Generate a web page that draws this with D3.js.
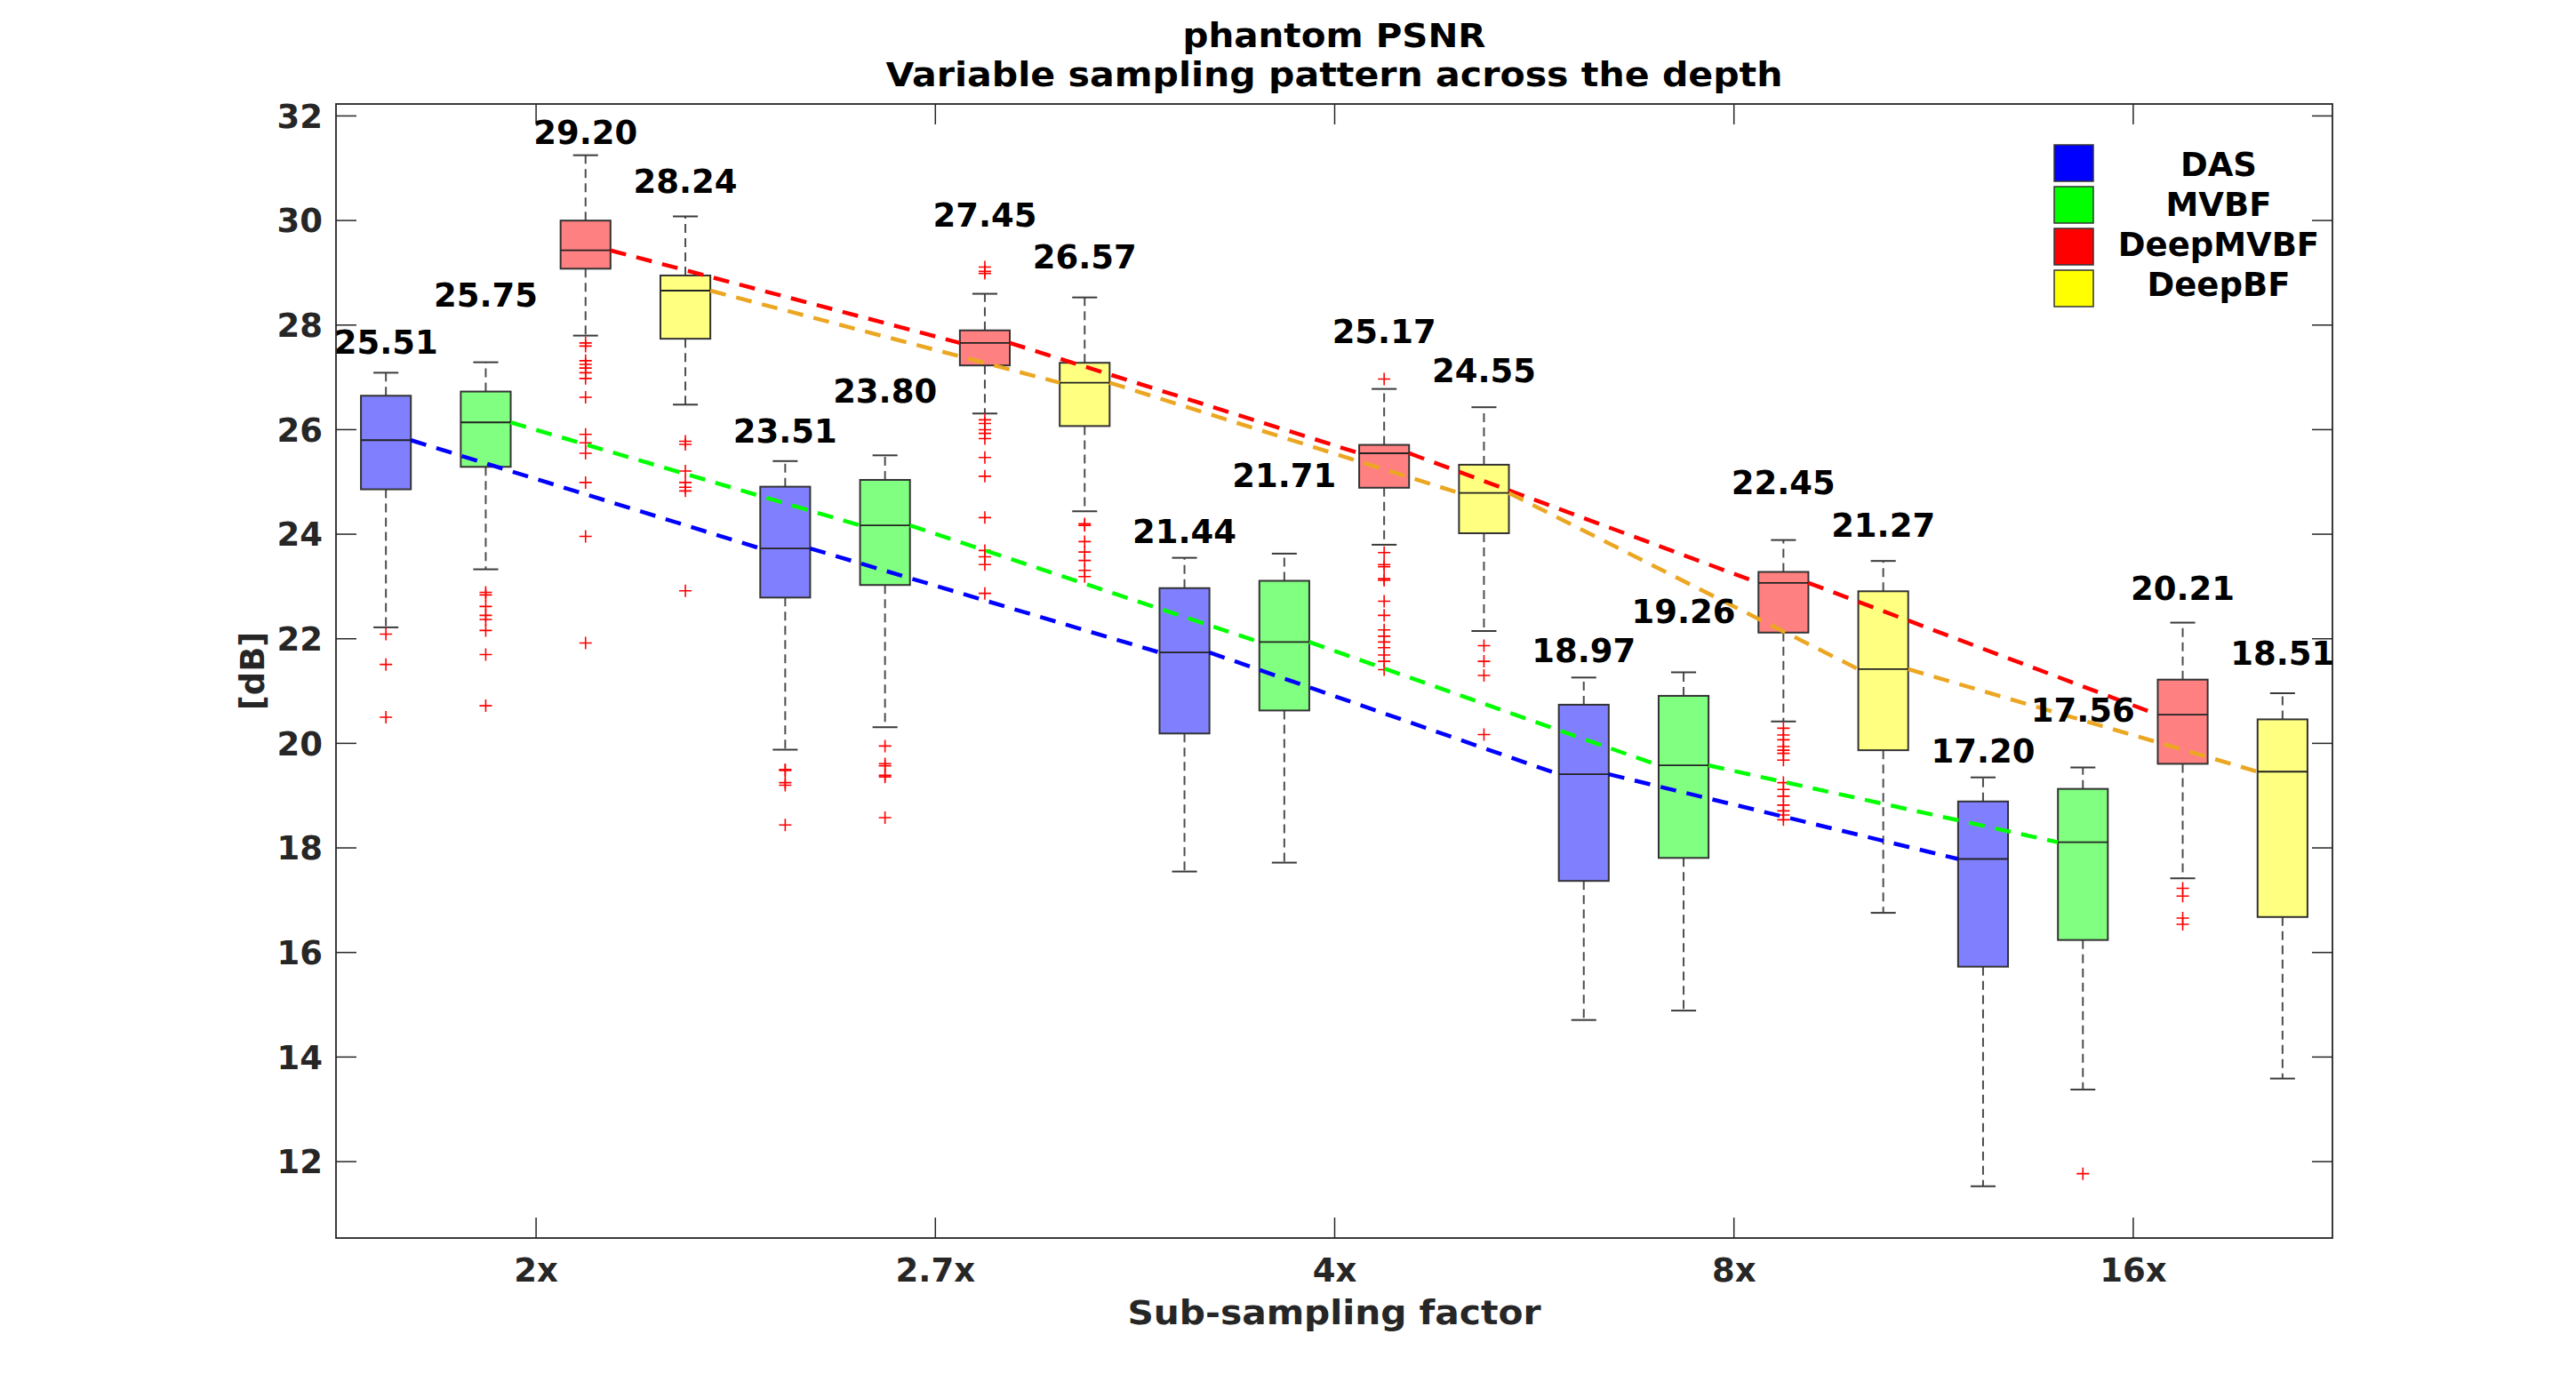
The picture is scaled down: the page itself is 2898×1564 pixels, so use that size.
<!DOCTYPE html>
<html>
<head>
<meta charset="utf-8">
<script src="https://cdn.jsdelivr.net/npm/d3@7"></script>
<style>
  body { margin: 0; background: #fff; }
  text { font-family: "DejaVu Sans", sans-serif; font-weight: bold; }
</style>
</head>
<body>
<div id="chart"></div>
<script>
'use strict';

// categories
const factors = ["2x", "2.7x", "4x", "8x", "16x"];
const methods = ["DAS", "MVBF", "DeepMVBF", "DeepBF"];

// box stats per factor: [lower whisker, q1, median, q3, upper whisker]
const dasBox = [
  [22.21, 24.85, 25.79, 26.64, 27.08],
  [19.87, 22.78, 23.72, 24.90, 25.39],
  [17.54, 20.18, 21.73, 22.96, 23.54],
  [14.70, 17.36, 19.40, 20.73, 21.25],
  [11.52, 15.72, 17.78, 18.88, 19.34],
];
const mvbfBox = [
  [23.32, 25.28, 26.13, 26.72, 27.28],
  [20.30, 23.02, 24.16, 25.03, 25.50],
  [17.71, 20.62, 21.93, 23.10, 23.62],
  [14.88, 17.80, 19.57, 20.90, 21.35],
  [13.37, 16.23, 18.10, 19.12, 19.53],
];
const deepMvbfBox = [
  [27.79, 29.07, 29.42, 29.99, 31.24],
  [26.30, 27.22, 27.65, 27.89, 28.59],
  [23.79, 24.88, 25.54, 25.70, 26.77],
  [20.41, 22.11, 23.06, 23.27, 23.88],
  [17.41, 19.60, 20.54, 21.21, 22.30],
];
const deepBfBox = [
  [26.47, 27.73, 28.65, 28.94, 30.07],
  [24.43, 26.06, 26.89, 27.27, 28.52],
  [22.14, 24.01, 24.78, 25.32, 26.42],
  [16.75, 19.86, 21.41, 22.90, 23.48],
  [13.58, 16.67, 19.45, 20.45, 20.95],
];

// outliers per factor
const dasOutliers = [
  [22.08, 21.50, 20.49],
  [19.49, 19.47, 19.24, 19.19, 18.43],
  [], [], [],
];
const mvbfOutliers = [
  [22.88, 22.83, 22.61, 22.44, 22.36, 22.15, 21.69, 20.71],
  [19.94, 19.60, 19.56, 19.38, 19.35, 18.57],
  [], [], [11.76],
];
const deepMvbfOutliers = [
  [27.65, 27.59, 27.31, 27.24, 27.17, 27.08, 26.97, 26.61, 25.90, 25.74, 25.54, 24.98, 23.95, 21.91],
  [29.10, 29.02, 28.98, 26.18, 26.11, 25.99, 25.92, 25.82, 25.46, 25.10, 24.31, 23.68, 23.56, 23.41, 22.86],
  [26.96, 23.64, 23.41, 23.37, 23.14, 23.11, 22.71, 22.44, 22.16, 22.04, 21.93, 21.82, 21.68, 21.56, 21.40],
  [20.28, 20.15, 20.06, 19.93, 19.86, 19.80, 19.67, 19.24, 19.11, 18.98, 18.81, 18.70, 18.62, 18.53],
  [17.22, 17.07, 16.65, 16.53],
];
const deepBfOutliers = [
  [25.77, 25.71, 25.20, 24.98, 24.89, 24.82, 22.91],
  [24.19, 24.16, 23.85, 23.65, 23.49, 23.30, 23.18],
  [21.86, 21.56, 21.29, 20.16],
  [], [],
];

// printed mean values and where (in dB) their label sits
const dasMean = [25.51, 23.51, 21.44, 18.97, 17.20];
const mvbfMean = [25.75, 23.80, 21.71, 19.26, 17.56];
const deepMvbfMean = [29.20, 27.45, 25.17, 22.45, 20.21];
const deepBfMean = [28.24, 26.57, 24.55, 21.27, 18.51];
const dasLabelAt = [27.44, 25.74, 23.83, 21.54, 19.63];
const mvbfLabelAt = [28.35, 26.51, 24.89, 22.30, 20.41];
const deepMvbfLabelAt = [31.45, 29.88, 27.65, 24.75, 22.73];
const deepBfLabelAt = [30.52, 29.07, 26.90, 23.95, 21.49];

const yTicks = [12, 14, 16, 18, 20, 22, 24, 26, 28, 30, 32];

// styles
const boxFill = ["#8080ff", "#80ff80", "#ff8080", "#ffff80"];
const legendFill = ["#0000ff", "#00ff00", "#ff0000", "#ffff00"];
const lineColor = ["#0000ff", "#00ff00", "#ff0000", "#eca722"];
const offsets = [-0.375, -0.125, 0.125, 0.375];
const boxUnits = 0.125;

const series = [
  {box: dasBox, out: dasOutliers, mean: dasMean, at: dasLabelAt},
  {box: mvbfBox, out: mvbfOutliers, mean: mvbfMean, at: mvbfLabelAt},
  {box: deepMvbfBox, out: deepMvbfOutliers, mean: deepMvbfMean, at: deepMvbfLabelAt},
  {box: deepBfBox, out: deepBfOutliers, mean: deepBfMean, at: deepBfLabelAt},
];

const W = 2898, H = 1564;
const margin = {top: 117, right: 274, bottom: 171, left: 378},
    width = W - margin.left - margin.right,
    height = H - margin.top - margin.bottom;

const svg = d3.select("#chart")
  .append("svg")
    .attr("width", W)
    .attr("height", H);

const g = svg.append("g")
    .attr("transform", `translate(${margin.left},${margin.top})`);

const x = d3.scaleLinear().domain([0.5, 5.5]).range([0, width]);
const y = d3.scaleLinear().domain([10.53, 32.22]).range([height, 0]);
const bw = x(boxUnits) - x(0);
const tickLen = 23;
const axisColor = "#262626";

// axes (ticks pointing inward, like matlab)
const yAxis = g.append("g")
  .call(d3.axisLeft(y).tickValues(yTicks).tickSizeInner(-tickLen).tickSizeOuter(0).tickPadding(15));
const yAxisR = g.append("g")
  .attr("transform", `translate(${width},0)`)
  .call(d3.axisRight(y).tickValues(yTicks).tickSizeInner(-tickLen).tickSizeOuter(0).tickFormat(""));
const xAxis = g.append("g")
  .attr("transform", `translate(0,${height})`)
  .call(d3.axisBottom(x).tickValues([1, 2, 3, 4, 5]).tickFormat((d, i) => factors[i])
    .tickSizeInner(-tickLen).tickSizeOuter(0));
const xAxisT = g.append("g")
  .call(d3.axisTop(x).tickValues([1, 2, 3, 4, 5]).tickSizeInner(-tickLen).tickSizeOuter(0).tickFormat(""));

[yAxis, yAxisR, xAxis, xAxisT].forEach(a => {
  a.select(".domain").remove();
  a.selectAll("line").attr("stroke", axisColor).attr("stroke-width", 1.5);
  a.selectAll("text").attr("fill", axisColor).style("font-size", "37px")
    .style("font-family", "DejaVu Sans").style("font-weight", "bold");
});
yAxis.selectAll("text").attr("dy", "0.36em");
xAxis.selectAll("text").attr("dy", null).attr("y", 49);

g.append("rect")
  .attr("width", width).attr("height", height)
  .attr("fill", "none").attr("stroke", axisColor).attr("stroke-width", 1.8);

// boxes
series.forEach((s, m) => {
  s.box.forEach((b, i) => {
    const cx = x(i + 1 + offsets[m]);
    const [lo, q1, med, q3, hi] = b;
    const bg = g.append("g");
    // whiskers
    bg.append("line").attr("x1", cx).attr("x2", cx).attr("y1", y(q3)).attr("y2", y(hi))
      .attr("stroke", "#4d4d4d").attr("stroke-width", 2).attr("stroke-dasharray", "10,6");
    bg.append("line").attr("x1", cx).attr("x2", cx).attr("y1", y(q1)).attr("y2", y(lo))
      .attr("stroke", "#4d4d4d").attr("stroke-width", 2).attr("stroke-dasharray", "10,6");
    [lo, hi].forEach(v => {
      bg.append("line").attr("x1", cx - bw / 4).attr("x2", cx + bw / 4)
        .attr("y1", y(v)).attr("y2", y(v))
        .attr("stroke", "#3a3a3a").attr("stroke-width", 2);
    });
    bg.append("rect")
      .attr("x", cx - bw / 2).attr("y", y(q3))
      .attr("width", bw).attr("height", y(q1) - y(q3))
      .attr("fill", boxFill[m]).attr("stroke", "#333").attr("stroke-width", 2);
    bg.append("line").attr("x1", cx - bw / 2).attr("x2", cx + bw / 2)
      .attr("y1", y(med)).attr("y2", y(med))
      .attr("stroke", "#222").attr("stroke-width", 1.8);
    // outliers
    bg.selectAll("path.out")
      .data(s.out[i])
      .enter()
      .append("path")
        .attr("class", "out")
        .attr("d", v => `M${cx - 7},${y(v)}H${cx + 7}M${cx},${y(v) - 7}V${y(v) + 7}`)
        .attr("stroke", "#ff0000").attr("stroke-width", 1.6).attr("fill", "none");
  });
});

// dashed trend lines joining the medians
const seg = d3.line().x(d => d[0]).y(d => d[1]);
series.forEach((s, m) => {
  for (let i = 0; i < factors.length - 1; i++) {
    const p0 = [x(i + 1 + offsets[m]) + bw / 2, y(s.box[i][2])];
    const p1 = [x(i + 2 + offsets[m]) - bw / 2, y(s.box[i + 1][2])];
    g.append("path")
      .attr("d", seg([p0, p1]))
      .attr("fill", "none")
      .attr("stroke", lineColor[m])
      .attr("stroke-width", 4.5)
      .attr("stroke-dasharray", "18,12");
  }
});

// mean labels
series.forEach((s, m) => {
  g.selectAll(`text.mean${m}`)
    .data(s.mean)
    .enter()
    .append("text")
      .attr("class", `mean${m}`)
      .attr("x", (d, i) => x(i + 1 + offsets[m]))
      .attr("y", (d, i) => y(s.at[i]))
      .attr("text-anchor", "middle")
      .attr("fill", "#000")
      .style("font-size", "37px")
      .text(d => d.toFixed(2));
});

// legend
const legend = svg.append("g");
methods.forEach((name, i) => {
  legend.append("rect")
    .attr("x", 2311).attr("y", 163 + i * 47)
    .attr("width", 44).attr("height", 41)
    .attr("fill", legendFill[i]).attr("stroke", "#333").attr("stroke-width", 1.5);
  legend.append("text")
    .attr("x", 2496).attr("y", 198 + i * 45)
    .attr("text-anchor", "middle")
    .attr("fill", "#000")
    .style("font-size", "37px")
    .text(name);
});

// titles (matlab renders these a little wider)
const cxAll = margin.left + width / 2;
svg.append("text").attr("x", cxAll).attr("y", 53).attr("text-anchor", "middle")
  .attr("textLength", 341).attr("lengthAdjust", "spacingAndGlyphs")
  .style("font-size", "37px").attr("fill", "#000").text("phantom PSNR");
svg.append("text").attr("x", cxAll).attr("y", 97).attr("text-anchor", "middle")
  .attr("textLength", 1009).attr("lengthAdjust", "spacingAndGlyphs")
  .style("font-size", "37px").attr("fill", "#000").text("Variable sampling pattern across the depth");
svg.append("text").attr("x", cxAll).attr("y", 1490).attr("text-anchor", "middle")
  .attr("textLength", 465).attr("lengthAdjust", "spacingAndGlyphs")
  .style("font-size", "37px").attr("fill", axisColor).text("Sub-sampling factor");
svg.append("text")
  .attr("transform", `translate(297,${margin.top + height / 2}) rotate(-90)`)
  .attr("text-anchor", "middle")
  .style("font-size", "37px").attr("fill", axisColor).text("[dB]");
</script>
</body>
</html>
